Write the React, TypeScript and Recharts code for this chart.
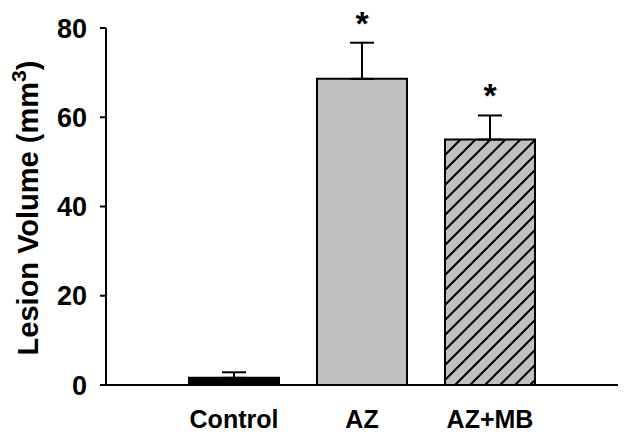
import React from 'react';
import { BarChart, Bar, XAxis, YAxis, Cell, ErrorBar, LabelList } from 'recharts';

const categories = ['Control', 'AZ', 'AZ+MB'];
const means = [1.6, 68.6, 55.0];
const sems = [1.25, 8.1, 5.4];
const marks = ['', '*', '*'];
const yTicks = [0, 20, 40, 60, 80];

const fills = ['#000000', '#c0c0c0', 'url(#hatch)'];

const data = categories.map((c, i) => ({
  name: c,
  mean: means[i],
  err: [0, sems[i]],
  mark: marks[i],
}));

const FONT = '"Liberation Sans", Arial, Helvetica, sans-serif';

const StarLabel = (props: any) => {
  const { x, y, width, height, index, value } = props;
  if (!value) return null;
  const pxPerUnit = height / means[index];
  const errTop = y - sems[index] * pxPerUnit;
  return (
    <text
      x={x + width / 2}
      y={errTop - 8}
      textAnchor="middle"
      fontFamily={FONT}
      fontWeight="bold"
      fontSize={34}
      fill="#000"
    >
      {value}
    </text>
  );
};

const YLabel = () => (
  <text
    x={38}
    y={208}
    transform="rotate(-90, 38, 208)"
    textAnchor="middle"
    fontFamily={FONT}
    fontWeight="bold"
    fontSize={29}
    fill="#000"
  >
    Lesion Volume (mm
    <tspan fontSize={21} dy={-12}>3</tspan>
    <tspan dy={12}>)</tspan>
  </text>
);

export default function App() {
  return (
    <div style={{ position: 'absolute', left: 0, top: 0, width: 628, height: 438, background: '#fff' }}>
      <BarChart width={628} height={438} data={data} margin={{ top: 28, right: 10, bottom: 0, left: 0 }}>
        <defs>
          <pattern id="hatch" patternUnits="userSpaceOnUse" width={15} height={15}>
            <rect x={0} y={0} width={15} height={15} fill="#c0c0c0" />
            <path
              d="M0,15 L15,0 M-3.75,3.75 L3.75,-3.75 M11.25,18.75 L18.75,11.25"
              stroke="#000"
              strokeWidth={2}
            />
          </pattern>
        </defs>
        <XAxis
          dataKey="name"
          height={53}
          tickLine={false}
          tickSize={0}
          tickMargin={25}
          padding={{ left: 64, right: 64 }}
          axisLine={{ stroke: '#000', strokeWidth: 2 }}
          tick={{ fill: '#000', fontSize: 25, fontWeight: 'bold', fontFamily: FONT }}
          interval={0}
        />
        <YAxis
          width={106}
          domain={[0, 80]}
          ticks={yTicks}
          tickSize={6}
          tickMargin={13}
          axisLine={{ stroke: '#000', strokeWidth: 2 }}
          tickLine={{ stroke: '#000', strokeWidth: 2 }}
          tick={{ fill: '#000', fontSize: 27, fontWeight: 'bold', fontFamily: FONT }}
          label={<YLabel />}
        />
        <Bar dataKey="mean" barSize={90} stroke="#000" strokeWidth={2} isAnimationActive={false}>
          {data.map((d, i) => (
            <Cell key={d.name} fill={fills[i]} />
          ))}
          <ErrorBar dataKey="err" width={12} stroke="#000" strokeWidth={2} direction="y" />
          <LabelList dataKey="mark" content={<StarLabel />} />
        </Bar>
      </BarChart>
    </div>
  );
}
